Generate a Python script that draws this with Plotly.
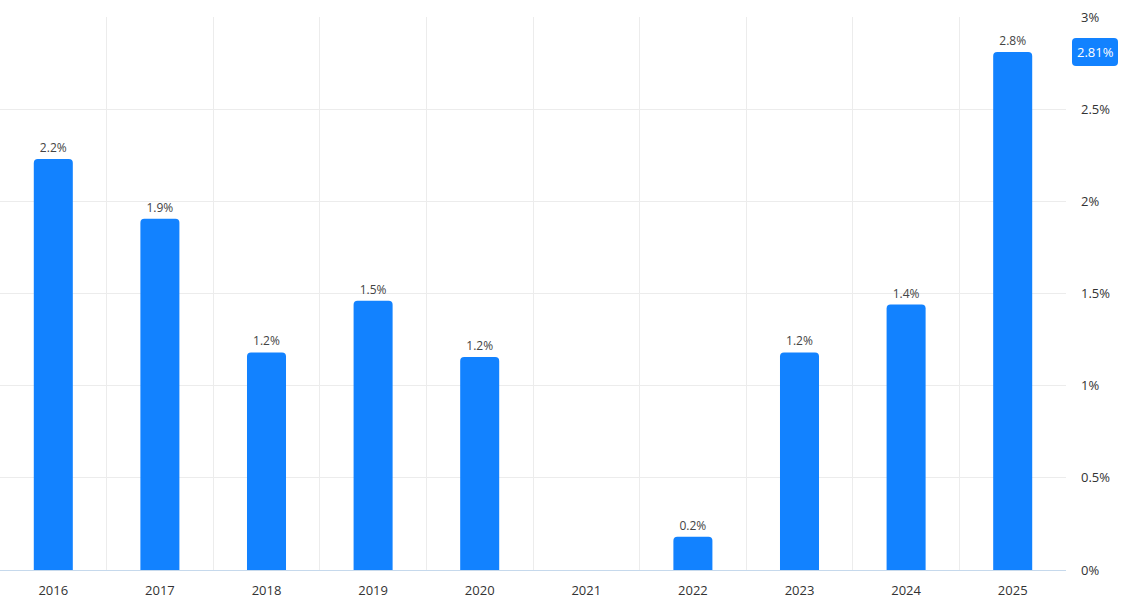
import plotly.graph_objects as go

years = ["2016", "2017", "2018", "2019", "2020", "2021", "2022", "2023", "2024", "2025"]
values = [2.23, 1.905, 1.18, 1.46, 1.155, None, 0.18, 1.18, 1.44, 2.81]
last_value = 2.81
ytick_vals = [0, 0.5, 1, 1.5, 2, 2.5, 3]
ytick_text = ["0%", "0.5%", "1%", "1.5%", "2%", "2.5%", "3%"]

blue = "#1282FF"

fig = go.Figure(go.Bar(
    x=years, y=values,
    marker=dict(color=blue, line=dict(width=0)),
    texttemplate="%{y:.1f}%", textposition="outside",
    textfont=dict(size=12, color="#444"),
    cliponaxis=False, hoverinfo="skip",
))

fig.update_layout(
    width=1122, height=609,
    margin=dict(l=0, r=56, t=17, b=39, autoexpand=False),
    paper_bgcolor="white", plot_bgcolor="white",
    font=dict(family="Open Sans, Noto Sans, sans-serif", size=13, color="#333"),
    bargap=0.634, barcornerradius=4,
    showlegend=False,
    xaxis=dict(
        type="category", tickson="boundaries", showgrid=True, gridcolor="#ececec",
        gridwidth=1, ticks="", showline=True, linecolor="#c6d9ec", linewidth=1,
        zeroline=False, tickfont=dict(size=13, color="#333"), ticklabelstandoff=8,
        automargin=False,
    ),
    yaxis=dict(
        side="right", range=[0, 3], tickvals=ytick_vals, ticktext=ytick_text,
        showgrid=True, gridcolor="#ececec", zeroline=False, ticks="",
        tickfont=dict(size=13, color="#333"), ticklabelstandoff=14,
        automargin=False,
    ),
)

fig.add_shape(
    type="path", xref="paper", yref="y", xanchor=1.0, yanchor=last_value,
    xsizemode="pixel", ysizemode="pixel",
    path="M 10,-14 L 48,-14 Q 52,-14 52,-10 L 52,10 Q 52,14 48,14 L 10,14 Q 6,14 6,10 L 6,-10 Q 6,-14 10,-14 Z",
    fillcolor=blue, line=dict(width=0), layer="above",
)
fig.add_annotation(
    xref="paper", yref="y", x=1.0, y=last_value, xshift=29,
    xanchor="center", yanchor="middle",
    text=f"{last_value:.2f}%", showarrow=False,
    font=dict(size=13, color="white"),
)

fig.write_html(
    "out.html",
    config={"displayModeBar": False},
    post_script="document.body.style.margin='0';document.body.style.overflow='hidden';",
)
